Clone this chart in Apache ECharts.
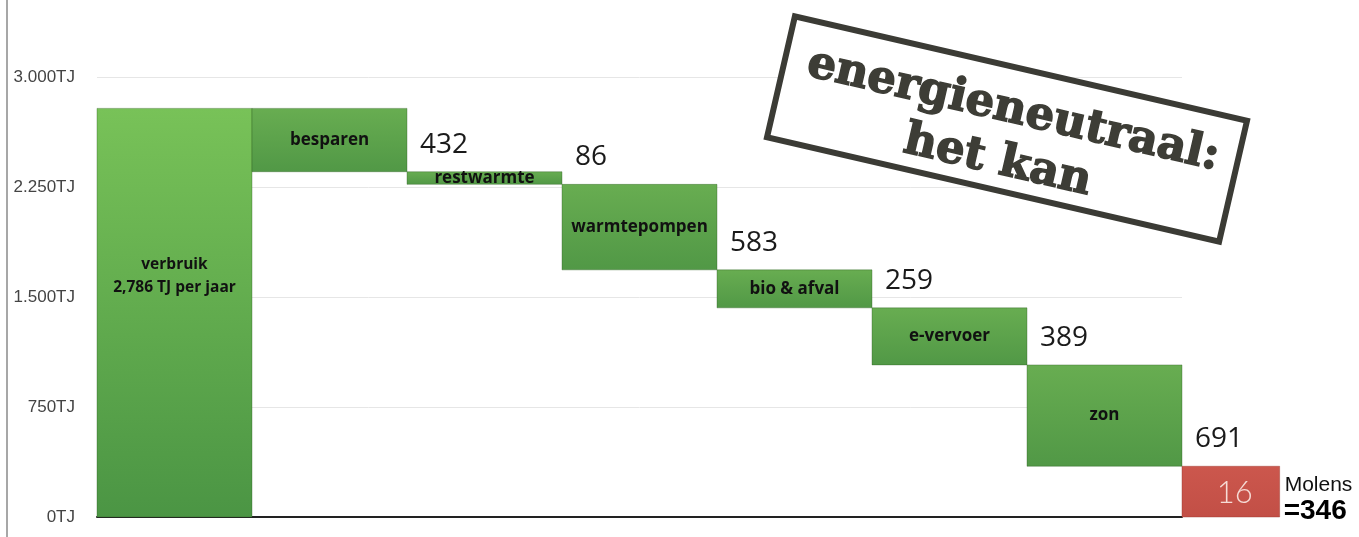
<!DOCTYPE html>
<html>
<head>
<meta charset="utf-8">
<script src="https://cdn.jsdelivr.net/npm/echarts@6/dist/echarts.min.js"></script>
<style>
  html, body { margin: 0; padding: 0; background: #ffffff; }
  #chart { width: 1359px; height: 537px; }
</style>
</head>
<body>
<div id="chart"></div>
<script>
// ---- data ----
const categories = ['verbruik', 'besparen', 'restwarmte', 'warmtepompen', 'bio & afval', 'e-vervoer', 'zon', 'Molens'];
const values = [2786, 432, 86, 583, 259, 389, 691, 346];
const innerLabels = ['verbruik\n2,786 TJ per jaar', 'besparen', 'restwarmte', 'warmtepompen', 'bio & afval', 'e-vervoer', 'zon', '16'];
const stepLabels = ['', '432', '86', '583', '259', '389', '691', ''];
const molensText = ['Molens', '=346'];
const yTicks = [0, 750, 1500, 2250, 3000];
const stampLines = ['energieneutraal:', 'het kan'];

// ---- build waterfall rows [index, low, high] from the values ----
const rows = [];
let running = values[0];
rows.push([0, 0, values[0]]);
for (let i = 1; i < values.length - 1; i++) {
  rows.push([i, running - values[i], running]);
  running -= values[i];
}
rows.push([values.length - 1, 0, values[values.length - 1]]);

function fmt(v) {
  return String(v).replace(/\B(?=(\d{3})+(?!\d))/g, '.') + 'TJ';
}

const chart = echarts.init(document.getElementById('chart'), null, { renderer: 'canvas' });
const lastIdx = categories.length - 1;

const option = {
  backgroundColor: '#ffffff',
  animation: false,
  grid: { left: 97, right: 177, top: 77, bottom: 20, containLabel: false },
  xAxis: {
    type: 'value',
    min: 0,
    max: categories.length - 1,
    axisLine: { show: true, onZero: false, lineStyle: { color: '#222', width: 2 } },
    axisTick: { show: false },
    axisLabel: { show: false },
    splitLine: { show: false }
  },
  yAxis: {
    type: 'value',
    min: yTicks[0],
    max: yTicks[yTicks.length - 1],
    interval: yTicks[1] - yTicks[0],
    axisLine: { show: false },
    axisTick: { show: false },
    axisLabel: {
      formatter: fmt,
      margin: 22,
      color: '#444444',
      fontFamily: 'Liberation Sans',
      fontSize: 17
    },
    splitLine: { lineStyle: { color: '#e6e6e6', width: 1 } }
  },
  series: [{
    type: 'custom',
    clip: false,
    encode: { x: 0, y: [1, 2] },
    data: rows,
    renderItem: function (params, api) {
      const i = api.value(0);
      const lo = api.value(1);
      const hi = api.value(2);
      const pTop = api.coord([i, hi]);
      const pBot = api.coord([i + 1, lo]);
      const isLast = i === lastIdx;
      const fullW = pBot[0] - pTop[0];
      const w = isLast ? fullW * 0.63 : fullW;
      const x = pTop[0];
      const y = pTop[1];
      const h = pBot[1] - pTop[1];
      const children = [];
      let fill;
      if (isLast) {
        fill = new echarts.graphic.LinearGradient(0, 0, 0, 1, [
          { offset: 0, color: '#cc574d' }, { offset: 1, color: '#c24f46' }
        ]);
      } else if (i === 0) {
        fill = new echarts.graphic.LinearGradient(0, 0, 0, 1, [
          { offset: 0, color: '#78c258' }, { offset: 1, color: '#4b9544' }
        ]);
      } else {
        fill = new echarts.graphic.LinearGradient(0, 0, 0, 1, [
          { offset: 0, color: '#68ad51' }, { offset: 1, color: '#519846' }
        ]);
      }
      children.push({
        type: 'rect',
        shape: { x: x, y: y, width: w, height: h },
        style: { fill: fill, stroke: isLast ? 'rgba(150,50,40,0.4)' : 'rgba(40,90,30,0.35)', lineWidth: 1 }
      });
      if (isLast) {
        children.push({
          type: 'text',
          style: {
            text: innerLabels[i], x: x + w / 2 + 4, y: y + h / 2 + 1,
            align: 'center', verticalAlign: 'middle',
            fill: '#f6dcd6', fontFamily: 'Lato', fontWeight: 300, fontSize: 31
          }
        });
        children.push({
          type: 'text',
          style: {
            text: molensText[0], x: x + w + 5, y: y + h / 2 - 6,
            align: 'left', verticalAlign: 'middle',
            fill: '#111', fontFamily: 'Liberation Sans', fontSize: 21
          }
        });
        children.push({
          type: 'text',
          style: {
            text: molensText[1], x: x + w + 4, y: y + h / 2 + 20,
            align: 'left', verticalAlign: 'middle',
            fill: '#000', fontFamily: 'Liberation Sans', fontWeight: 'bold', fontSize: 28
          }
        });
      } else {
        children.push({
          type: 'text',
          style: {
            text: innerLabels[i], x: x + w / 2, y: i === 0 ? y + h * 0.41 : y + h / 2,
            align: 'center', verticalAlign: 'middle', lineHeight: 23,
            fill: '#111', fontFamily: 'Open Sans', fontWeight: 'bold',
            fontSize: i === 0 ? 15.5 : 17
          }
        });
      }
      if (stepLabels[i]) {
        children.push({
          type: 'text',
          style: {
            text: stepLabels[i], x: x + w + 13, y: y + h - 27,
            align: 'left', verticalAlign: 'middle',
            fill: '#1a1a1a', fontFamily: 'Open Sans', fontSize: 28
          }
        });
      }
      return { type: 'group', children: children };
    }
  }],
  graphic: [
    {
      type: 'line',
      z: 100,
      shape: { x1: 7, y1: 0, x2: 7, y2: 537 },
      style: { stroke: '#8a8a8a', lineWidth: 1.5 }
    },
    {
      type: 'group',
      z: 100,
      x: 1007,
      y: 129,
      rotation: -13 * Math.PI / 180,
      children: [
        {
          type: 'rect',
          z: 100,
          shape: { x: -232, y: -62, width: 464, height: 124 },
          style: { fill: '#ffffff', stroke: '#3b3b35', lineWidth: 6 }
        },
        {
          type: 'text',
          z: 101,
          style: {
            text: stampLines[0], x: 2, y: -19,
            align: 'center', verticalAlign: 'middle',
            fill: '#3d3d36', stroke: '#3d3d36', lineWidth: 1.5,
            fontFamily: 'DejaVu Serif', fontWeight: 'bold', fontSize: 45
          }
        },
        {
          type: 'text',
          z: 101,
          style: {
            text: stampLines[1], x: -2, y: 34,
            align: 'center', verticalAlign: 'middle',
            fill: '#3d3d36', stroke: '#3d3d36', lineWidth: 1.5,
            fontFamily: 'DejaVu Serif', fontWeight: 'bold', fontSize: 45
          }
        }
      ]
    }
  ]
};
chart.setOption(option);
</script>
</body>
</html>
